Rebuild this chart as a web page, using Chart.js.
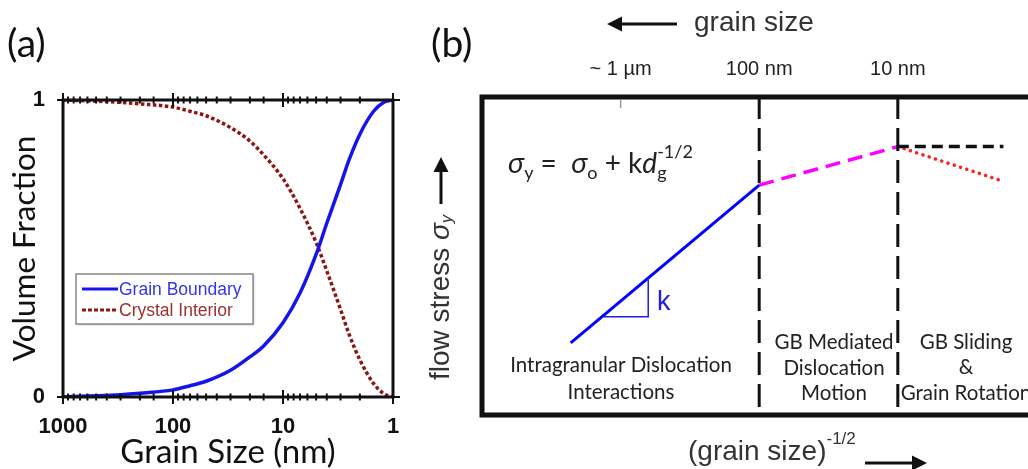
<!DOCTYPE html>
<html>
<head>
<meta charset="utf-8">
<script src="https://cdn.jsdelivr.net/npm/chart.js@4"></script>
<style>
  html, body { margin: 0; padding: 0; background: #fff; overflow: hidden; width: 1028px; height: 469px; }
  #wrapA { position: absolute; left: 0; top: 0; width: 430px; height: 469px; }
  #wrapB { position: absolute; left: 420px; top: 0; width: 608px; height: 469px; }
</style>
</head>
<body>
<div id="wrapA"><canvas id="chartA" width="430" height="469"></canvas></div>
<div id="wrapB"><canvas id="chartB" width="608" height="469"></canvas></div>
<script>
// (a) volume fraction vs grain size
const sizesNm = [1000, 500, 300, 200, 100, 70, 50, 30, 20, 15, 10, 7, 5, 4, 3, 2.5, 2, 1.5, 1.2, 1];
const grainBoundary = [0, 0.004, 0.008, 0.013, 0.024, 0.038, 0.053, 0.09, 0.135, 0.172, 0.25, 0.35, 0.48, 0.585, 0.715, 0.8, 0.885, 0.962, 0.993, 1];
const crystalInterior = [1, 0.996, 0.992, 0.987, 0.976, 0.962, 0.947, 0.907, 0.862, 0.815, 0.735, 0.635, 0.52, 0.425, 0.295, 0.21, 0.125, 0.045, 0.01, 0];
const majorSizes = [1000, 100, 10, 1];
const fractionTicks = [0, 1];

// (b) schematic flow stress vs grain size
const topTickSizes = [1000, 100, 10];
const topTickLabels = ["~ 1 \u00b5m", "100 nm", "10 nm"];
const hallPetchX = [2290, 100];
const hallPetchY = [2.27, 7.23];
const gbMediatedX = [100, 10];
const gbMediatedY = [7.23, 8.44];
const plateauX = [10, 1.73];
const plateauY = [8.44, 8.44];
const softeningX = [10, 1.85];
const softeningY = [8.44, 7.39];
const slopeX = [1324, 632, 632];
const slopeY = [3.09, 3.09, 4.25];
const boundarySizes = [100, 10];
const boundaryY = [0.25, 10];

const pts = (xs, ys) => xs.map((x, i) => ({ x, y: ys[i] }));

const BLUE_A = "rgb(20, 20, 235)";
const BROWN = "rgb(140, 22, 22)";
const SANS = "'Liberation Sans', Arial, sans-serif";

function arrow(ctx, x1, y1, x2, y2, head) {
  const ang = Math.atan2(y2 - y1, x2 - x1);
  const c = Math.cos(ang), s = Math.sin(ang);
  ctx.beginPath();
  ctx.moveTo(x1, y1);
  ctx.lineTo(x2 - c * head * 0.8, y2 - s * head * 0.8);
  ctx.stroke();
  ctx.beginPath();
  ctx.moveTo(x2, y2);
  ctx.lineTo(x2 - c * head + s * head * 0.5, y2 - s * head - c * head * 0.5);
  ctx.lineTo(x2 - c * head - s * head * 0.5, y2 - s * head + c * head * 0.5);
  ctx.closePath();
  ctx.fill();
}

const panelA = {
  id: "panelA",
  afterDatasetsDraw(chart) {
    const { ctx, chartArea: a, scales } = chart;
    ctx.save();
    ctx.strokeStyle = "#111";
    ctx.lineWidth = 3;
    ctx.strokeRect(a.left, a.top, a.right - a.left, a.bottom - a.top);

    // crossing tick marks on top and bottom edge
    ctx.lineWidth = 2;
    scales.x.ticks.forEach(t => {
      const px = scales.x.getPixelForValue(t.value);
      const len = majorSizes.includes(t.value) ? 7 : 3.5;
      [a.top, a.bottom].forEach(yy => {
        ctx.beginPath();
        ctx.moveTo(px, yy - len);
        ctx.lineTo(px, yy + len);
        ctx.stroke();
      });
    });
    fractionTicks.forEach(v => {
      const py = scales.y.getPixelForValue(v);
      ctx.beginPath();
      ctx.moveTo(a.left - 6, py);
      ctx.lineTo(a.right + 7, py);
      ctx.stroke();
    });

    // legend
    ctx.fillStyle = "#fff";
    ctx.shadowColor = "rgba(0,0,0,0.25)";
    ctx.shadowOffsetX = 1;
    ctx.shadowOffsetY = 1;
    ctx.shadowBlur = 2;
    ctx.fillRect(76, 274, 177, 50);
    ctx.shadowColor = "transparent";
    ctx.strokeStyle = "#888";
    ctx.lineWidth = 1.5;
    ctx.strokeRect(76, 274, 177, 50);
    ctx.lineWidth = 3;
    ctx.strokeStyle = BLUE_A;
    ctx.beginPath(); ctx.moveTo(82, 289); ctx.lineTo(118, 289); ctx.stroke();
    ctx.strokeStyle = BROWN;
    ctx.setLineDash([4, 2]);
    ctx.beginPath(); ctx.moveTo(82, 310); ctx.lineTo(118, 310); ctx.stroke();
    ctx.setLineDash([]);
    ctx.font = "17.5px " + SANS;
    ctx.textBaseline = "middle";
    ctx.textAlign = "left";
    ctx.fillStyle = "#3535e8";
    ctx.fillText("Grain Boundary", 119, 290);
    ctx.fillStyle = "#9a3030";
    ctx.fillText("Crystal Interior", 119, 311);

    ctx.fillStyle = "#111";
    ctx.font = "39px Lato, sans-serif";
    ctx.fillText("(a)", 7, 44);
    ctx.restore();
  }
};

new Chart(document.getElementById("chartA"), {
  type: "line",
  data: {
    datasets: [
      {
        label: "Grain Boundary",
        data: pts(sizesNm, grainBoundary),
        borderColor: BLUE_A,
        borderWidth: 3.5,
        pointRadius: 0,
        cubicInterpolationMode: "monotone"
      },
      {
        label: "Crystal Interior",
        data: pts(sizesNm, crystalInterior),
        borderColor: BROWN,
        borderWidth: 3.5,
        borderDash: [3.5, 2.5],
        pointRadius: 0,
        cubicInterpolationMode: "monotone"
      }
    ]
  },
  options: {
    responsive: false,
    animation: false,
    layout: { padding: { top: 100, right: 37, bottom: 0, left: 0 } },
    plugins: { legend: { display: false }, tooltip: { enabled: false } },
    scales: {
      x: {
        type: "logarithmic",
        reverse: true,
        min: 1,
        max: 1000,
        afterFit: s => { s.height = 72; },
        grid: { display: false, drawTicks: false },
        border: { display: false },
        ticks: {
          autoSkip: false,
          maxRotation: 0,
          padding: 17,
          color: "#111",
          font: { family: SANS, size: 22, weight: "bold" },
          callback: v => (majorSizes.includes(v) ? String(v) : "")
        },
        title: {
          display: true,
          text: "Grain Size (nm)",
          color: "#111",
          padding: { top: 0, bottom: 0 },
          font: { family: "Lato, sans-serif", size: 33, lineHeight: 1 }
        }
      },
      y: {
        min: 0,
        max: 1,
        afterBuildTicks: s => { s.ticks = fractionTicks.map(v => ({ value: v })); },
        afterFit: s => { s.width = 63; },
        grid: { display: false, drawTicks: false },
        border: { display: false },
        ticks: {
          padding: 18,
          color: "#111",
          font: { family: SANS, size: 22, weight: "bold" }
        },
        title: {
          display: true,
          text: "Volume Fraction",
          color: "#111",
          padding: { top: 9, bottom: 0 },
          font: { family: "Lato, sans-serif", size: 31.5, lineHeight: 1 }
        }
      }
    }
  },
  plugins: [panelA]
});

const panelB = {
  id: "panelB",
  afterDraw(chart) {
    const { ctx, chartArea: a, scales } = chart;
    const ox = -420;
    ctx.save();
    // frame: top, left and bottom; the right side is off the page
    ctx.strokeStyle = "#111";
    ctx.lineWidth = 5;
    ctx.beginPath();
    ctx.moveTo(chart.width + 10, a.top);
    ctx.lineTo(a.left, a.top);
    ctx.lineTo(a.left, a.bottom);
    ctx.lineTo(chart.width + 10, a.bottom);
    ctx.stroke();

    // small tick at ~1 um
    const tx = scales.x.getPixelForValue(topTickSizes[0]);
    ctx.strokeStyle = "#999";
    ctx.lineWidth = 1.5;
    ctx.beginPath(); ctx.moveTo(tx, a.top + 3); ctx.lineTo(tx, a.top + 11); ctx.stroke();

    ctx.fillStyle = "#111";
    ctx.strokeStyle = "#111";
    ctx.textBaseline = "middle";
    ctx.textAlign = "left";
    ctx.font = "39px Lato, sans-serif";
    ctx.fillText("(b)", 431 + ox, 44);

    // top: grain size arrow
    ctx.fillStyle = "#333";
    ctx.font = "28px " + SANS;
    ctx.fillText("grain size", 694 + ox, 23);
    ctx.lineWidth = 3;
    ctx.fillStyle = "#111";
    arrow(ctx, 677 + ox, 24, 607 + ox, 24, 15);

    // bottom: (grain size)^-1/2 arrow
    ctx.fillStyle = "#333";
    ctx.font = "28px " + SANS;
    const w = ctx.measureText("(grain size)").width;
    ctx.fillText("(grain size)", 688 + ox, 452);
    ctx.font = "17px " + SANS;
    ctx.fillText("-1/2", 688 + ox + w, 439);
    ctx.fillStyle = "#111";
    arrow(ctx, 865 + ox, 463, 927 + ox, 463, 15);

    // left: flow stress
    ctx.save();
    ctx.translate(441 + ox, 380);
    ctx.rotate(-Math.PI / 2);
    ctx.fillStyle = "#333";
    ctx.font = "28px " + SANS;
    ctx.fillText("flow stress ", 0, 0);
    let cx = ctx.measureText("flow stress ").width;
    ctx.font = "italic 28px " + SANS;
    ctx.fillText("\u03c3", cx, 0);
    cx += ctx.measureText("\u03c3").width;
    ctx.font = "italic 16px " + SANS;
    ctx.fillText("y", cx, 7);
    ctx.fillStyle = "#111";
    ctx.lineWidth = 3;
    arrow(ctx, 176, 0, 223, 0, 15);
    ctx.restore();

    // equation
    ctx.fillStyle = "#222";
    let ex = 508 + ox;
    const eqY = 173;
    const part = (txt, font, dy) => {
      ctx.font = font;
      ctx.fillText(txt, ex, eqY + dy);
      ex += ctx.measureText(txt).width;
    };
    ctx.textBaseline = "alphabetic";
    part("\u03c3", "italic 29px Lato, sans-serif", 0);
    part("y", "18px Lato, sans-serif", 6);
    part(" =  ", "28px Lato, sans-serif", 0);
    part("\u03c3", "italic 29px Lato, sans-serif", 0);
    part("o", "18px Lato, sans-serif", 6);
    part(" + k", "28px Lato, sans-serif", 0);
    part("d", "italic 28px Lato, sans-serif", 0);
    ctx.font = "18px Lato, sans-serif";
    ctx.fillText("g", ex, eqY + 6);
    part("-1/2", "18px Lato, sans-serif", -15);

    // slope label
    ctx.textBaseline = "middle";
    ctx.fillStyle = "rgb(30, 30, 230)";
    ctx.font = "27px " + SANS;
    ctx.fillText("k", 657 + ox, 303);

    // regime labels
    ctx.fillStyle = "#222";
    ctx.textAlign = "center";
    ctx.font = "20.5px Lato, sans-serif";
    ctx.fillText("Intragranular Dislocation", 621 + ox, 365);
    ctx.fillText("Interactions", 621 + ox, 392);
    ctx.fillText("GB Mediated", 834 + ox, 342);
    ctx.fillText("Dislocation", 834 + ox, 368);
    ctx.fillText("Motion", 834 + ox, 393);
    ctx.fillText("GB Sliding", 966 + ox, 342);
    ctx.fillText("&", 966 + ox, 367);
    ctx.fillText("Grain Rotation", 966 + ox, 393);
    ctx.restore();
  }
};

new Chart(document.getElementById("chartB"), {
  type: "line",
  data: {
    datasets: [
      { data: pts([boundarySizes[0], boundarySizes[0]], boundaryY), borderColor: "#111", borderWidth: 3, borderDash: [23, 9], pointRadius: 0 },
      { data: pts([boundarySizes[1], boundarySizes[1]], boundaryY), borderColor: "#111", borderWidth: 3, borderDash: [23, 9], pointRadius: 0 },
      { data: pts(hallPetchX, hallPetchY), borderColor: "rgb(0, 0, 255)", borderWidth: 3, pointRadius: 0 },
      { data: pts(slopeX, slopeY), borderColor: "rgb(30, 30, 240)", borderWidth: 1.5, pointRadius: 0 },
      { data: pts(gbMediatedX, gbMediatedY), borderColor: "#ff00ff", borderWidth: 3.5, borderDash: [15, 8], pointRadius: 0 },
      { data: pts(plateauX, plateauY), borderColor: "#111", borderWidth: 3.5, borderDash: [11, 6], pointRadius: 0 },
      { data: pts(softeningX, softeningY), borderColor: "#ff2020", borderWidth: 3.5, borderDash: [0.1, 6.5], borderCapStyle: "round", pointRadius: 0 }
    ]
  },
  options: {
    responsive: false,
    animation: false,
    layout: { padding: { top: 0, right: 0, bottom: 54, left: 62 } },
    plugins: { legend: { display: false }, tooltip: { enabled: false } },
    scales: {
      x: {
        type: "logarithmic",
        position: "top",
        reverse: true,
        // the source axis runs on past the page edge; 1.15 nm is where the window cuts it
        min: 1.15,
        max: 10000,
        afterBuildTicks: s => { s.ticks = topTickSizes.map(v => ({ value: v })); },
        afterFit: s => { s.height = 97; },
        grid: { display: false, drawTicks: false },
        border: { display: false },
        ticks: {
          autoSkip: false,
          maxRotation: 0,
          padding: 16,
          color: "#222",
          font: { family: SANS, size: 20 },
          callback: (v, i) => topTickLabels[i]
        }
      },
      y: { display: false, min: 0, max: 10 }
    }
  },
  plugins: [panelB]
});
</script>
</body>
</html>
